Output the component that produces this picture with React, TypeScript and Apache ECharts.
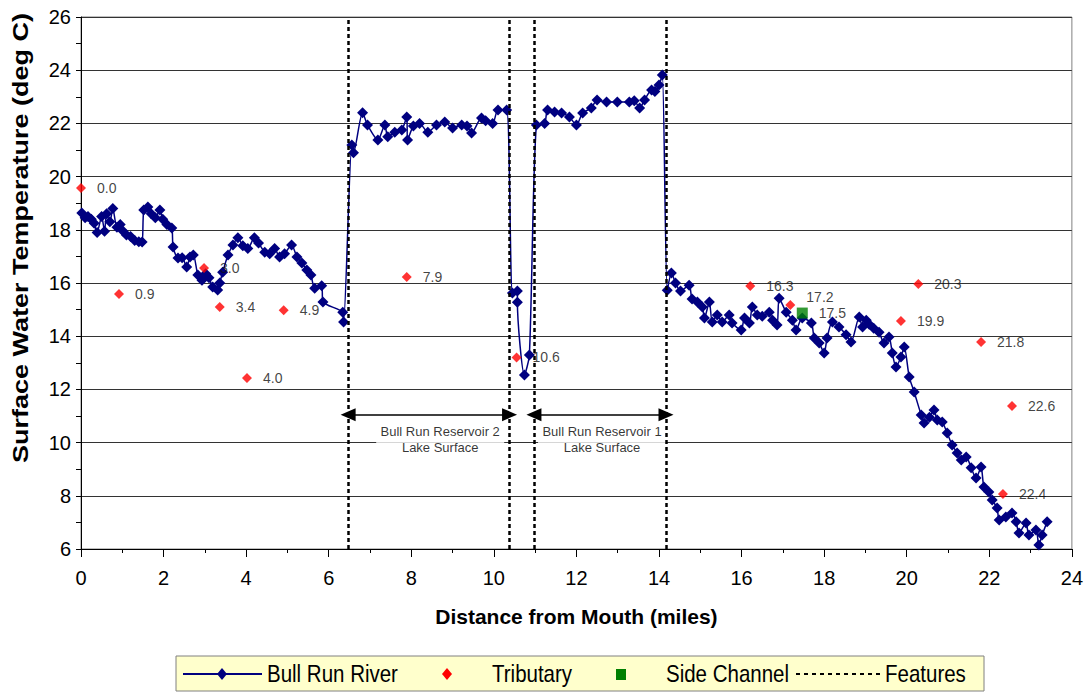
import React, { useEffect, useRef } from "react";
import * as echarts from "echarts";

const riverMiles = [
  0.02, 0.1, 0.17, 0.25, 0.32, 0.39, 0.5, 0.57, 0.62, 0.7, 0.77, 0.87, 0.95, 1.02, 1.1, 1.2, 1.3, 1.4, 1.48,
  1.52, 1.62, 1.7, 1.8, 1.91, 1.98, 2.08, 2.2, 2.23, 2.35, 2.45, 2.56, 2.64, 2.72, 2.83, 2.93, 3.02, 3.1,
  3.19, 3.31, 3.36, 3.43, 3.56, 3.68, 3.8, 3.92, 4.04, 4.2, 4.3, 4.45, 4.57, 4.69, 4.81, 4.93, 5.1, 5.23,
  5.35, 5.47, 5.57, 5.66, 5.83, 5.86, 6.34, 6.36, 6.56, 6.6, 6.82, 6.94, 7.19, 7.36, 7.43, 7.6, 7.77, 7.89,
  7.91, 8.05, 8.2, 8.4, 8.61, 8.81, 9.0, 9.22, 9.35, 9.46, 9.7, 9.8, 9.97, 10.1, 10.31, 10.45, 10.57, 10.57,
  10.74, 10.86, 11.03, 11.23, 11.3, 11.47, 11.64, 11.83, 12.0, 12.15, 12.36, 12.5, 12.73, 12.99, 13.28, 13.4,
  13.53, 13.65, 13.82, 13.9, 14.0, 14.08, 14.2, 14.3, 14.4, 14.52, 14.73, 14.8, 14.93, 15.05, 15.1, 15.22,
  15.29, 15.41, 15.53, 15.7, 15.77, 15.99, 16.07, 16.19, 16.26, 16.38, 16.5, 16.67, 16.75, 16.86, 16.91,
  17.08, 17.23, 17.32, 17.47, 17.69, 17.76, 17.88, 18.0, 18.07, 18.2, 18.36, 18.53, 18.65, 18.85, 18.93,
  19.02, 19.09, 19.2, 19.33, 19.45, 19.57, 19.65, 19.74, 19.86, 19.94, 20.06, 20.18, 20.35, 20.42, 20.55,
  20.66, 20.74, 20.86, 20.98, 21.1, 21.22, 21.32, 21.44, 21.56, 21.68, 21.8, 21.87, 21.99, 22.07, 22.19,
  22.24, 22.4, 22.55, 22.65, 22.72, 22.89, 22.96, 23.13, 23.2, 23.28, 23.4,
];
const riverTemps = [
  18.63, 18.45, 18.5, 18.4, 18.25, 17.9, 18.5, 17.95, 18.6, 18.3, 18.8, 18.1, 18.2, 17.95, 17.8, 17.75, 17.6,
  17.55, 17.54, 18.74, 18.86, 18.6, 18.45, 18.74, 18.4, 18.2, 18.07, 17.35, 16.94, 16.95, 16.6, 16.98, 17.05,
  16.3, 16.1, 16.35, 16.2, 15.85, 15.74, 16.0, 16.4, 17.05, 17.43, 17.7, 17.4, 17.3, 17.7, 17.5, 17.16, 17.1,
  17.3, 16.98, 17.1, 17.43, 16.98, 16.75, 16.49, 16.3, 15.8, 15.9, 15.29, 14.9, 14.53, 21.19, 20.9, 22.4,
  21.94, 21.38, 21.94, 21.5, 21.67, 21.75, 22.24, 21.38, 21.9, 22.0, 21.67, 21.94, 22.05, 21.83, 21.94, 21.9,
  21.64, 22.2, 22.1, 22.0, 22.5, 22.5, 15.62, 15.7, 15.28, 12.54, 13.29, 21.94, 22.0, 22.5, 22.43, 22.39,
  22.24, 21.94, 22.39, 22.58, 22.88, 22.8, 22.8, 22.8, 22.85, 22.58, 22.88, 23.26, 23.2, 23.44, 23.82, 15.73,
  16.38, 16.0, 15.7, 15.92, 15.4, 15.29, 15.1, 14.68, 15.29, 14.53, 14.8, 14.53, 14.8, 14.5, 14.23, 14.68,
  14.5, 15.1, 14.8, 14.75, 14.9, 14.6, 14.42, 15.43, 14.9, 14.6, 14.23, 14.68, 14.5, 13.93, 13.74, 13.37,
  13.93, 14.53, 14.35, 14.05, 13.78, 14.72, 14.35, 14.6, 14.45, 14.3, 14.15, 13.74, 13.97, 13.37, 12.84,
  13.22, 13.59, 12.47, 11.9, 11.04, 10.74, 10.95, 11.23, 10.85, 10.77, 10.36, 9.91, 9.61, 9.35, 9.46, 9.05,
  8.67, 9.08, 8.33, 8.14, 7.84, 7.54, 7.09, 7.2, 7.35, 7.02, 6.6, 6.98, 6.53, 6.71, 6.15, 6.53, 7.02,
];

const tribMiles = [0.0, 0.92, 2.98, 3.36, 4.02, 4.91, 7.89, 10.55, 16.21, 17.18, 19.86, 20.28, 21.8, 22.55, 22.33];
const tribTemps = [19.57, 15.59, 16.56, 15.1, 12.43, 14.98, 16.23, 13.2, 15.89, 15.17, 14.57, 15.96, 13.78, 11.38, 8.07];
const tribLabels = ["0.0", "0.9", "3.0", "3.4", "4.0", "4.9", "7.9", "10.6", "16.3", "17.2", "19.9", "20.3", "21.8", "22.6", "22.4"];
const raisedTribLabels = ["17.2"];

const sideMiles = [17.47];
const sideTemps = [14.87];
const sideLabels = ["17.5"];

const featureMiles = [6.47, 10.38, 10.97, 14.17];
const reservoirSpans = [
  [6.47, 10.38],
  [10.97, 14.17],
];
const reservoirArrowTemp = 11.05;
const reservoirLabelMiles = [8.7, 12.62];
const reservoirLabelTemp = 10.1;
const reservoirLabels = ["Bull Run Reservoir 2\nLake Surface", "Bull Run Reservoir 1\nLake Surface"];

const xTicks = [0, 24, 2];
const yTicks = [6, 26, 2];

const SANS = "'Liberation Sans', Arial, sans-serif";

export default function App() {
  const ref = useRef<HTMLDivElement>(null);

  useEffect(() => {
    if (!ref.current) return;
    const chart = echarts.init(ref.current, undefined, { renderer: "svg" });

    const river = riverMiles.map((m, i) => [m, riverTemps[i]]);
    const trib = tribMiles.map((m, i) => ({
      value: [m, tribTemps[i]],
      name: tribLabels[i],
      label: raisedTribLabels.includes(tribLabels[i]) ? { offset: [0, -8] } : undefined,
    }));
    const side = sideMiles.map((m, i) => ({ value: [m, sideTemps[i]], name: sideLabels[i] }));

    const legendY = 674;
    const legendText = (text: string, x: number) => ({
      type: "text",
      x,
      y: legendY,
      scaleY: 1.15,
      style: { text, fontFamily: SANS, fontSize: 20.5, fill: "#000", verticalAlign: "middle" },
      z: 11,
    });
    const pointLabel = {
      show: true,
      position: "right",
      distance: 11,
      formatter: (p: any) => p.name,
      fontFamily: SANS,
      fontSize: 14,
      color: "#111",
    };
    const option: any = {
      animation: false,
      grid: {
        left: 81,
        right: 13,
        top: 17,
        bottom: 149,
        show: true,
        borderColor: "#808080",
        borderWidth: 1,
      },
      xAxis: {
        type: "value",
        min: xTicks[0],
        max: xTicks[1],
        interval: xTicks[2],
        name: "Distance from Mouth (miles)",
        nameLocation: "middle",
        nameGap: 57,
        nameTextStyle: { fontFamily: SANS, fontWeight: "bold", fontSize: 21, color: "#000" },
        axisLine: { lineStyle: { color: "#000", width: 1 } },
        axisTick: { length: 8, lineStyle: { color: "#000" } },
        minorTick: { show: true, splitNumber: 2, length: 4, lineStyle: { color: "#000" } },
        axisLabel: { fontFamily: SANS, fontSize: 20, color: "#000", margin: 19 },
        splitLine: { show: false },
      },
      yAxis: {
        type: "value",
        min: yTicks[0],
        max: yTicks[1],
        interval: yTicks[2],
        axisLine: { show: true, lineStyle: { color: "#000", width: 1 } },
        axisTick: { show: true, length: 5, lineStyle: { color: "#000" } },
        minorTick: { show: true, splitNumber: 2, length: 5, lineStyle: { color: "#000" } },
        axisLabel: { fontFamily: SANS, fontSize: 20, color: "#000", margin: 10 },
        splitLine: { show: true, lineStyle: { color: "#333", width: 1 } },
      },
      series: [
        {
          name: "Reservoir labels",
          type: "scatter",
          silent: true,
          z: 1,
          symbol: "rect",
          symbolSize: [128, 38],
          itemStyle: { color: "#fff" },
          data: reservoirLabelMiles.map((m, i) => ({ value: [m, reservoirLabelTemp], name: reservoirLabels[i] })),
          label: {
            show: true,
            position: "inside",
            formatter: (p: any) => p.name,
            fontFamily: SANS,
            fontSize: 13,
            lineHeight: 16,
            color: "#000",
          },
        },
        {
          name: "Features",
          type: "line",
          data: [],
          silent: true,
          z: 3,
          markLine: {
            silent: true,
            symbol: ["none", "none"],
            label: { show: false },
            lineStyle: { color: "#000", type: [4, 3], width: 2.5 },
            data: featureMiles.map((m) => ({ xAxis: m })),
          },
        },
        {
          name: "Reservoir arrows",
          type: "line",
          data: [],
          silent: true,
          z: 3,
          markLine: {
            silent: true,
            symbol: ["triangle", "triangle"],
            symbolSize: [13, 15],
            label: { show: false },
            lineStyle: { color: "#000", type: "solid", width: 1.5 },
            data: reservoirSpans.map((s) => [
              { coord: [s[0], reservoirArrowTemp] },
              { coord: [s[1], reservoirArrowTemp] },
            ]),
          },
        },
        {
          name: "Bull Run River",
          type: "line",
          z: 4,
          data: river,
          smooth: 0.25,
          symbol: "diamond",
          symbolSize: 11,
          itemStyle: { color: "#000080" },
          lineStyle: { color: "#000080", width: 1.5 },
        },
        {
          name: "Tributary",
          type: "scatter",
          z: 5,
          data: trib,
          symbol: "diamond",
          symbolSize: 10,
          itemStyle: { color: "#FF0000" },
          label: pointLabel,
        },
        {
          name: "Side Channel",
          type: "scatter",
          z: 5,
          data: side,
          symbol: "rect",
          symbolSize: 11,
          itemStyle: { color: "#008000" },
          label: pointLabel,
        },
      ],
      graphic: [
        {
          type: "text",
          x: 20,
          y: 238,
          rotation: Math.PI / 2,
          style: {
            text: "Surface Water Temperature (deg C)",
            fontFamily: SANS,
            fontWeight: "bold",
            fontSize: 27,
            fill: "#000",
            align: "center",
            verticalAlign: "middle",
          },
          scaleY: 0.8,
        },
        {
          type: "rect",
          shape: { x: 176, y: 656, width: 808, height: 35 },
          style: { fill: "#FFFFCC", stroke: "#808080", lineWidth: 1 },
          z: 10,
        },
        {
          type: "line",
          shape: { x1: 183, y1: legendY, x2: 262, y2: legendY },
          style: { stroke: "#000080", lineWidth: 2 },
          z: 11,
        },
        {
          type: "polygon",
          shape: { points: [[222, legendY - 6], [227, legendY], [222, legendY + 6], [217, legendY]] },
          style: { fill: "#000080" },
          z: 11,
        },
        legendText("Bull Run River", 267),
        {
          type: "polygon",
          shape: { points: [[447, legendY - 6], [452, legendY], [447, legendY + 6], [442, legendY]] },
          style: { fill: "#FF0000" },
          z: 11,
        },
        legendText("Tributary", 492),
        {
          type: "rect",
          shape: { x: 616, y: legendY - 5, width: 10, height: 11 },
          style: { fill: "#008000" },
          z: 11,
        },
        legendText("Side Channel", 666),
        {
          type: "line",
          shape: { x1: 796, y1: legendY, x2: 880, y2: legendY },
          style: { stroke: "#000", lineWidth: 2, lineDash: [4, 4] },
          z: 11,
        },
        legendText("Features", 885),
      ],
    };

    chart.setOption(option);
    return () => chart.dispose();
  }, []);

  return (
    <div
      ref={ref}
      style={{ position: "fixed", left: 0, top: 0, width: 1086, height: 698, background: "#fff" }}
    />
  );
}
